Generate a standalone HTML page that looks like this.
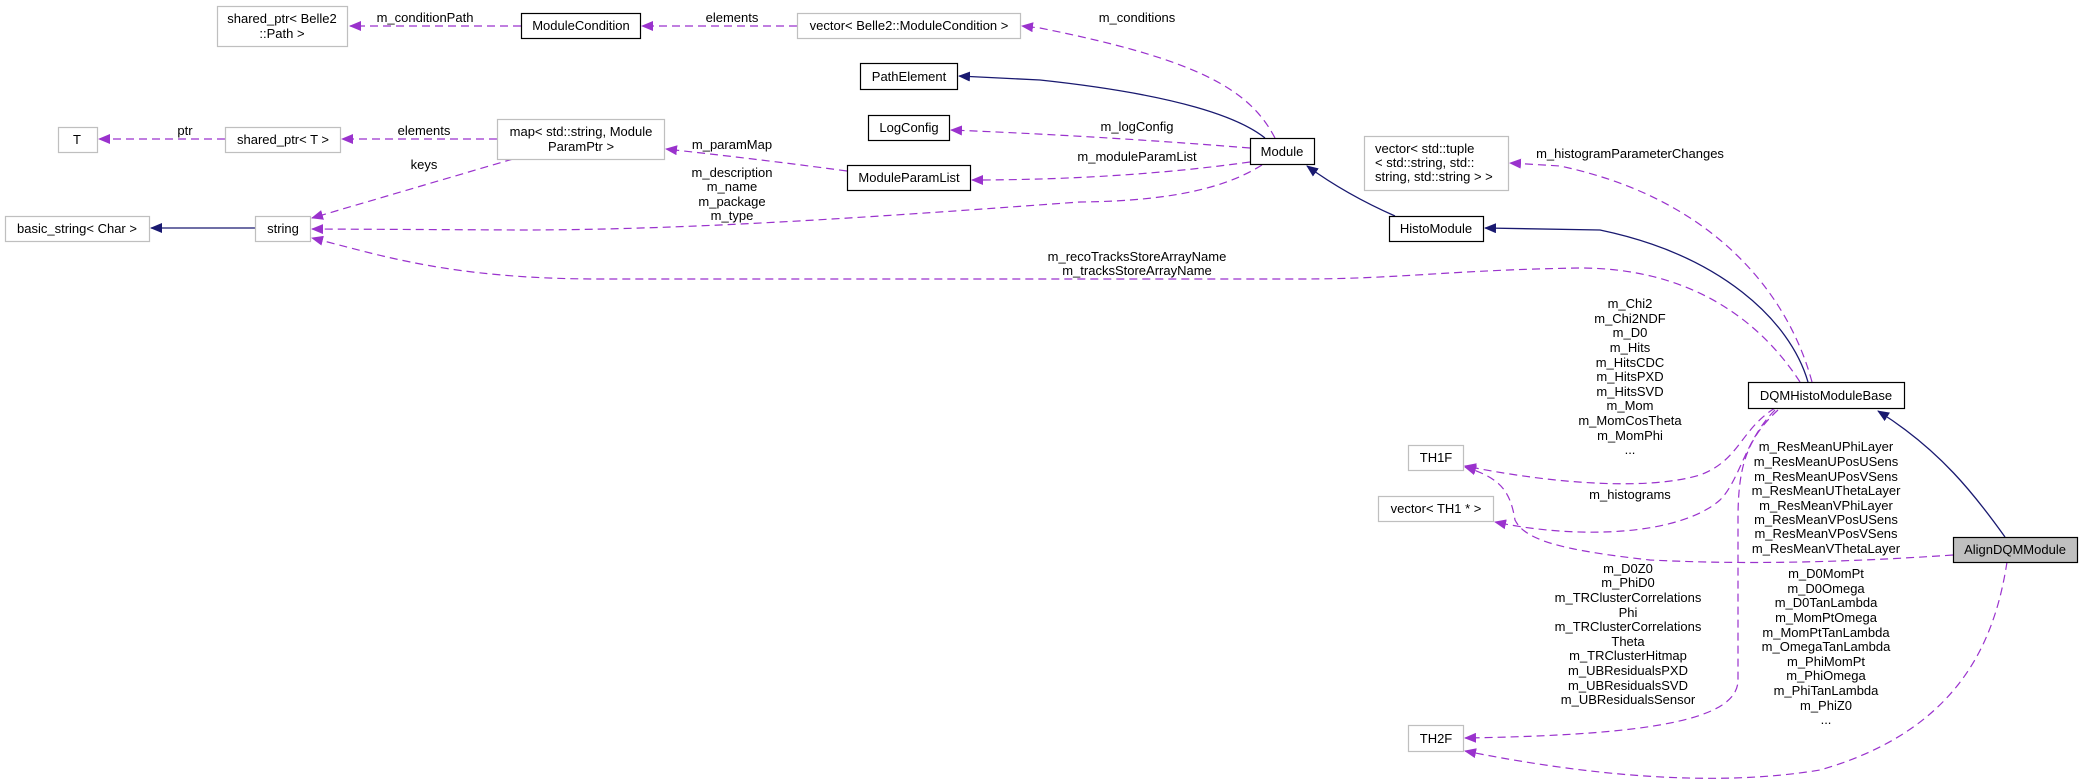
<!DOCTYPE html>
<html><head><meta charset="utf-8"><style>
html,body{margin:0;padding:0;background:#fff;}
svg{display:block;}
text{font-family:"Liberation Sans",Helvetica,Arial,sans-serif;font-size:13px;fill:#000;}
</style></head><body>
<svg width="2083" height="784" viewBox="0 0 2083 784" xmlns="http://www.w3.org/2000/svg">
<defs>
<marker id="ap" markerWidth="12" markerHeight="10" refX="11" refY="5" orient="auto" markerUnits="userSpaceOnUse"><path d="M0,0 L12,5 L0,10 z" fill="#9a32cd"/></marker>
<marker id="an" markerWidth="12" markerHeight="10" refX="11" refY="5" orient="auto" markerUnits="userSpaceOnUse"><path d="M0,0 L12,5 L0,10 z" fill="#191970"/></marker>
</defs>
<g fill="none" stroke="#9a32cd" stroke-width="1.2" stroke-dasharray="8,5" marker-end="url(#ap)">
<path d="M521,26 L350,26"/>
<path d="M797,26 L642,26"/>
<path d="M225,139 L99,139"/>
<path d="M497,139 L342,139"/>
<path d="M513,159 L312,218"/>
<path d="M1275,138 C1250,90 1200,60 1040,28 L1022,26"/>
<path d="M1250,148 C1150,140 1050,134 951,130"/>
<path d="M1250,162 C1150,176 1050,180 972,180"/>
<path d="M847,171 C780,162 720,155 666,149"/>
<path d="M1262,165 C1230,185 1180,201 1080,202 C900,215 700,230 520,230 L312,229"/>
<path d="M1812,382 C1790,300 1720,200 1560,166 L1510,163"/>
<path d="M1800,382 C1760,320 1690,268 1580,268 C1450,270 1400,279 1300,279 L600,279 C450,279 380,255 312,238"/>
<path d="M1775,408 C1740,430 1740,460 1700,475 C1650,490 1560,485 1465,466"/>
<path d="M1775,410 C1745,440 1740,480 1720,500 C1680,535 1580,540 1495,522"/>
<path d="M1953,555 C1850,562 1750,565 1650,560 C1560,550 1525,540 1515,520 C1510,490 1500,478 1465,467"/>
<path d="M1778,410 C1745,440 1738,470 1738,520 L1738,680 C1738,720 1650,735 1465,738"/>
<path d="M2007,562 C1995,640 1960,730 1820,770 C1700,790 1560,770 1465,751"/>
</g>
<g fill="none" stroke="#191970" stroke-width="1.3" marker-end="url(#an)">
<path d="M255,228 L151,228"/>
<path d="M1265,138 C1240,118 1180,95 1040,80 L959,76"/>
<path d="M1395,216 C1370,205 1340,190 1307,166"/>
<path d="M1808,382 C1790,320 1720,255 1600,230 L1485,228"/>
<path d="M2005,537 C1975,495 1940,450 1878,411"/>
</g>
<g stroke-width="1.2">
<rect x="217.5" y="6.5" width="130" height="40" fill="#fff" stroke="#bfbfbf"/>
<rect x="521.5" y="13.5" width="119" height="25" fill="#fff" stroke="#000"/>
<rect x="797.5" y="13.5" width="223" height="25" fill="#fff" stroke="#bfbfbf"/>
<rect x="860.5" y="63.5" width="97" height="26" fill="#fff" stroke="#000"/>
<rect x="58.5" y="127.5" width="39" height="25" fill="#fff" stroke="#bfbfbf"/>
<rect x="225.5" y="127.5" width="115" height="25" fill="#fff" stroke="#bfbfbf"/>
<rect x="497.5" y="119.5" width="167" height="40" fill="#fff" stroke="#bfbfbf"/>
<rect x="868.5" y="115.5" width="81" height="25" fill="#fff" stroke="#000"/>
<rect x="847.5" y="165.5" width="123" height="25" fill="#fff" stroke="#000"/>
<rect x="1250.5" y="138.5" width="64" height="26" fill="#fff" stroke="#000"/>
<rect x="5.5" y="216.5" width="144" height="25" fill="#fff" stroke="#bfbfbf"/>
<rect x="255.5" y="216.5" width="55" height="25" fill="#fff" stroke="#bfbfbf"/>
<rect x="1364.5" y="136.5" width="144" height="54" fill="#fff" stroke="#bfbfbf"/>
<rect x="1389.5" y="216.5" width="94" height="25" fill="#fff" stroke="#000"/>
<rect x="1748.5" y="382.5" width="156" height="26" fill="#fff" stroke="#000"/>
<rect x="1408.5" y="445.5" width="55" height="25" fill="#fff" stroke="#bfbfbf"/>
<rect x="1378.5" y="496.5" width="115" height="25" fill="#fff" stroke="#bfbfbf"/>
<rect x="1953.5" y="537.5" width="124" height="25" fill="#bfbfbf" stroke="#000"/>
<rect x="1408.5" y="725.5" width="55" height="26" fill="#fff" stroke="#bfbfbf"/>
</g>
<g text-anchor="middle">
<text x="282" y="23">shared_ptr&lt; Belle2</text>
<text x="282" y="38">::Path &gt;</text>
<text x="581" y="30">ModuleCondition</text>
<text x="909" y="30">vector&lt; Belle2::ModuleCondition &gt;</text>
<text x="909" y="81">PathElement</text>
<text x="77" y="144">T</text>
<text x="283" y="144">shared_ptr&lt; T &gt;</text>
<text x="581" y="136">map&lt; std::string, Module</text>
<text x="581" y="151">ParamPtr &gt;</text>
<text x="909" y="132">LogConfig</text>
<text x="909" y="182">ModuleParamList</text>
<text x="1282" y="156">Module</text>
<text x="77" y="233">basic_string&lt; Char &gt;</text>
<text x="283" y="233">string</text>
<text x="1436" y="233">HistoModule</text>
<text x="1826" y="400">DQMHistoModuleBase</text>
<text x="1436" y="462">TH1F</text>
<text x="1436" y="513">vector&lt; TH1 * &gt;</text>
<text x="2015" y="554">AlignDQMModule</text>
<text x="1436" y="743">TH2F</text>

<text x="425" y="22">m_conditionPath</text>
<text x="732" y="22">elements</text>
<text x="185" y="135">ptr</text>
<text x="424" y="135">elements</text>
<text x="424" y="169">keys</text>
<text x="732" y="149">m_paramMap</text>
<text x="732" y="177">m_description</text>
<text x="732" y="191">m_name</text>
<text x="732" y="206">m_package</text>
<text x="732" y="220">m_type</text>
<text x="1137" y="22">m_conditions</text>
<text x="1137" y="131">m_logConfig</text>
<text x="1137" y="161">m_moduleParamList</text>
<text x="1137" y="261">m_recoTracksStoreArrayName</text>
<text x="1137" y="275">m_tracksStoreArrayName</text>
<text x="1630" y="158">m_histogramParameterChanges</text>
<text x="1630" y="308">m_Chi2</text>
<text x="1630" y="323">m_Chi2NDF</text>
<text x="1630" y="337">m_D0</text>
<text x="1630" y="352">m_Hits</text>
<text x="1630" y="367">m_HitsCDC</text>
<text x="1630" y="381">m_HitsPXD</text>
<text x="1630" y="396">m_HitsSVD</text>
<text x="1630" y="410">m_Mom</text>
<text x="1630" y="425">m_MomCosTheta</text>
<text x="1630" y="440">m_MomPhi</text>
<text x="1630" y="454">...</text>
<text x="1630" y="499">m_histograms</text>
<text x="1628" y="573">m_D0Z0</text>
<text x="1628" y="587">m_PhiD0</text>
<text x="1628" y="602">m_TRClusterCorrelations</text>
<text x="1628" y="617">Phi</text>
<text x="1628" y="631">m_TRClusterCorrelations</text>
<text x="1628" y="646">Theta</text>
<text x="1628" y="660">m_TRClusterHitmap</text>
<text x="1628" y="675">m_UBResidualsPXD</text>
<text x="1628" y="690">m_UBResidualsSVD</text>
<text x="1628" y="704">m_UBResidualsSensor</text>
<text x="1826" y="451">m_ResMeanUPhiLayer</text>
<text x="1826" y="466">m_ResMeanUPosUSens</text>
<text x="1826" y="481">m_ResMeanUPosVSens</text>
<text x="1826" y="495">m_ResMeanUThetaLayer</text>
<text x="1826" y="510">m_ResMeanVPhiLayer</text>
<text x="1826" y="524">m_ResMeanVPosUSens</text>
<text x="1826" y="538">m_ResMeanVPosVSens</text>
<text x="1826" y="553">m_ResMeanVThetaLayer</text>
<text x="1826" y="578">m_D0MomPt</text>
<text x="1826" y="593">m_D0Omega</text>
<text x="1826" y="607">m_D0TanLambda</text>
<text x="1826" y="622">m_MomPtOmega</text>
<text x="1826" y="637">m_MomPtTanLambda</text>
<text x="1826" y="651">m_OmegaTanLambda</text>
<text x="1826" y="666">m_PhiMomPt</text>
<text x="1826" y="680">m_PhiOmega</text>
<text x="1826" y="695">m_PhiTanLambda</text>
<text x="1826" y="710">m_PhiZ0</text>
<text x="1826" y="724">...</text>
</g>
<g text-anchor="start">
<text x="1375" y="153">vector&lt; std::tuple</text>
<text x="1375" y="167">&lt; std::string, std::</text>
<text x="1375" y="181">string, std::string &gt; &gt;</text>
</g>
</svg>
</body></html>
